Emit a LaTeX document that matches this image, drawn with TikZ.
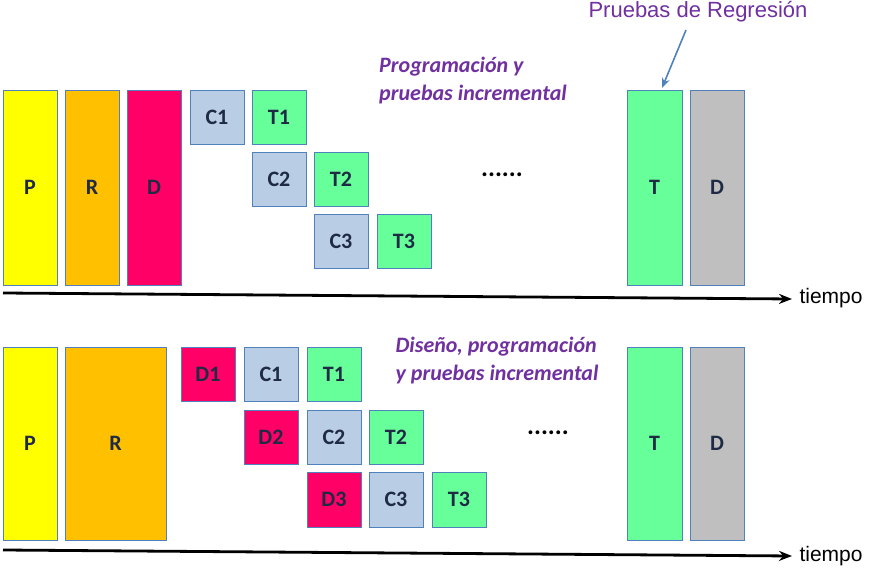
\documentclass[tikz,border=0pt]{standalone}
\usepackage{fontspec}
\setmainfont{Carlito}
\newfontfamily\arialf{Liberation Sans}
\usetikzlibrary{arrows.meta}
\definecolor{cY}{HTML}{FFFF00}\definecolor{cO}{HTML}{FFC000}\definecolor{cD}{HTML}{FF0066}
\definecolor{cC}{HTML}{B9CDE5}\definecolor{cT}{HTML}{66FF99}\definecolor{cG}{HTML}{BFBFBF}
\definecolor{bd}{HTML}{4F81BD}\definecolor{pu}{HTML}{7030A0}\definecolor{nv}{HTML}{1F2A44}
\begin{document}
\begin{tikzpicture}[x=1pt,y=-1pt,
 bx/.style={draw=bd,line width=0.8pt,font=\fontsize{22}{22}\selectfont\bfseries,text=nv},
 ax/.style={-{Stealth[length=13pt,width=10pt]},line width=2.8pt},
 tl/.style={font=\arialf\fontsize{21}{21}\selectfont,anchor=west},
 it/.style={font=\fontsize{22}{28}\selectfont\bfseries\itshape,text=pu,align=left},
 dt/.style={font=\fontsize{26}{26}\selectfont\bfseries}]
\useasboundingbox (0,0) rectangle (876,572);
\newcommand\bn[7]{\node[bx,fill=#7,minimum width={#5-#3},minimum height={#6-#4}] (#1) at ({(#3+#5)/2},{(#4+#6)/2}) {#2};}
% top
\bn{aP}{P}{3}{90}{57}{285}{cY}
\bn{aR}{R}{65}{90}{119}{285}{cO}
\bn{aD}{D}{127}{90}{181}{285}{cD}
\bn{aC1}{C1}{190}{90}{244}{144}{cC}
\bn{aT1}{T1}{252}{90}{306}{144}{cT}
\bn{aC2}{C2}{252}{152}{306}{206}{cC}
\bn{aT2}{T2}{314}{152}{368}{206}{cT}
\bn{aC3}{C3}{314}{214}{368}{268}{cC}
\bn{aT3}{T3}{377}{214}{431}{268}{cT}
\bn{aT}{T}{627}{90}{682}{285}{cT}
\bn{aDD}{D}{690}{90}{744}{285}{cG}
\draw[ax] (3,293) -- (792,299);
\node[tl] (at) at (796,298) {tiempo};
\node[dt] (ad) at (502,175) {......};
\node[it] (ai) at (473,81) {Programación y\\pruebas incremental};
\node[font=\arialf\fontsize{22}{22}\selectfont,text=pu] (pr) at (698,12) {Pruebas de Regresión};
\coordinate (ps) at (686,30);
\draw[-{Stealth[length=10pt,width=8pt]},bd,line width=1.6pt] (ps) -- (662,88);
% bottom
\bn{bP}{P}{3}{347}{57}{540}{cY}
\bn{bR}{R}{65}{347}{166}{540}{cO}
\bn{bD1}{D1}{181}{347}{235}{401}{cD}
\bn{bC1}{C1}{244}{347}{298}{401}{cC}
\bn{bT1}{T1}{307}{347}{361}{401}{cT}
\bn{bD2}{D2}{244}{410}{298}{464}{cD}
\bn{bC2}{C2}{307}{410}{361}{464}{cC}
\bn{bT2}{T2}{369}{410}{423}{464}{cT}
\bn{bD3}{D3}{307}{472}{361}{527}{cD}
\bn{bC3}{C3}{369}{472}{423}{527}{cC}
\bn{bT3}{T3}{432}{472}{486}{527}{cT}
\bn{bT}{T}{627}{347}{682}{540}{cT}
\bn{bDD}{D}{690}{347}{744}{540}{cG}
\draw[ax] (3,550) -- (792,556);
\node[tl] (bt) at (796,556) {tiempo};
\node[dt] (bd2) at (548,433) {......};
\node[it] (bi) at (497,361) {Diseño, programación\\y pruebas incremental};
\end{tikzpicture}
\end{document}
